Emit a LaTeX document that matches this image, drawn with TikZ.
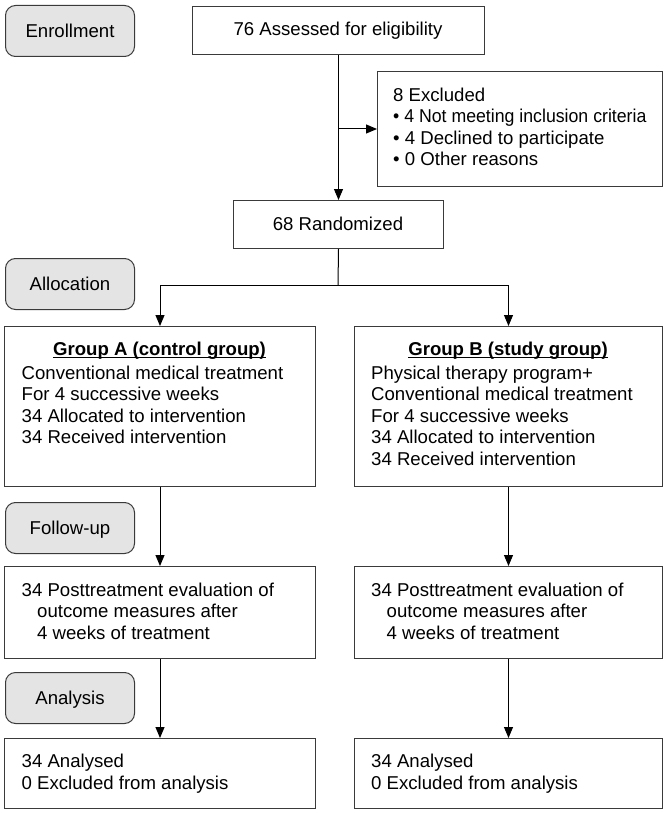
\documentclass[tikz,border=0pt]{standalone}
\usepackage{graphicx}
\usepackage{fontspec}
\setmainfont{Liberation Sans}
\usetikzlibrary{arrows.meta}
\definecolor{lblgray}{HTML}{E4E4E4}
\definecolor{edge}{HTML}{3A3A3A}
\begin{document}
\begin{tikzpicture}[x=1pt,y=-1pt,
  every node/.style={font=\fontsize{18.6}{21.6}\selectfont, text=black},
  boxst/.style={draw=edge, line width=1pt, rectangle, anchor=north west, inner sep=0pt},
  lblst/.style={draw=edge, line width=1pt, fill=lblgray, rounded corners=10pt, anchor=north west, inner sep=0pt, minimum width=129pt, minimum height=51pt},
  txt/.style={anchor=base west, align=left, inner sep=0pt},
  ctxt/.style={anchor=base, align=center, inner sep=0pt},
  ulst/.style={draw=black, line width=1.2pt},
  arr/.style={draw=black, line width=1pt, -{Triangle[length=11pt,width=9pt]}},
  ln/.style={draw=black, line width=1pt}]
\useasboundingbox (0,0) rectangle (667,813);

% stage labels
\node[lblst] (enr) at (5,5) {};
\node[ctxt] (enrt) at ([yshift=-6.5pt]enr.center) {Enrollment};
\node[lblst] (alloc) at (5,258) {};
\node[ctxt] (alloct) at ([yshift=-6.5pt]alloc.center) {Allocation};
\node[lblst] (fol) at (5,502) {};
\node[ctxt] (folt) at ([yshift=-6.5pt]fol.center) {Follow-up};
\node[lblst] (ana) at (5,672) {};
\node[ctxt] (anat) at ([yshift=-6.5pt]ana.center) {Analysis};

% boxes (multi-line text nodes are placed by the baseline of their last line)
\node[boxst, minimum width=292pt, minimum height=48pt] (assess) at (192,6) {};
\node[ctxt] (assesst) at (338,36) {76 Assessed for eligibility};

\node[boxst, minimum width=285pt, minimum height=115pt] (excl) at (377,71) {};
\node[txt] (exclt) at (393,166) {8 Excluded\\\scalebox{0.952}[1]{\textbullet\ 4 Not meeting inclusion criteria}\\\textbullet\ 4 Declined to participate\\\textbullet\ 0 Other reasons};

\node[boxst, minimum width=210pt, minimum height=48pt] (rand) at (233,200) {};
\node[ctxt] (randt) at (338,230.5) {68 Randomized};

\node[boxst, minimum width=311pt, minimum height=160pt] (ga) at (4,326) {};
\node[ctxt] (gatitle) at (159.5,355) {\textbf{Group A (control group)}};
\draw[ulst] ([yshift=-2.8pt]gatitle.base west) -- ([yshift=-2.8pt]gatitle.base east);
\node[txt] (gat) at (21.5,443.8) {Conventional medical treatment\\For 4 successive weeks\\34 Allocated to intervention\\34 Received intervention};

\node[boxst, minimum width=308pt, minimum height=160pt] (gb) at (354,326) {};
\node[ctxt] (gbtitle) at (508,355) {\textbf{Group B (study group)}};
\draw[ulst] ([yshift=-2.8pt]gbtitle.base west) -- ([yshift=-2.8pt]gbtitle.base east);
\node[txt] (gbt) at (371,465.4) {Physical therapy program+\\Conventional medical treatment\\For 4 successive weeks\\34 Allocated to intervention\\34 Received intervention};

\node[boxst, minimum width=311pt, minimum height=92pt] (pa) at (4,566) {};
\node[txt] (pat) at (21.5,639.5) {34 Posttreatment evaluation of\\\hspace*{15.5pt}outcome measures after\\\hspace*{15.5pt}4 weeks of treatment};
\node[boxst, minimum width=308pt, minimum height=92pt] (pb) at (354,566) {};
\node[txt] (pbt) at (371,639.5) {34 Posttreatment evaluation of\\\hspace*{15.5pt}outcome measures after\\\hspace*{15.5pt}4 weeks of treatment};

\node[boxst, minimum width=311pt, minimum height=70pt] (aa) at (4,738) {};
\node[txt] (aat) at (21.5,789) {34 Analysed\\0 Excluded from analysis};
\node[boxst, minimum width=308pt, minimum height=70pt] (ab) at (354,738) {};
\node[txt] (abt) at (371,789) {34 Analysed\\0 Excluded from analysis};

% connectors
\draw[arr] (assess.south) -- (rand.north);
\coordinate (brk) at (assess.south |- excl.west);
\draw[arr] (brk) -- (excl.west);
\coordinate (split) at (338,285);
\draw[ln] (rand.south) -- (split);
\draw[arr] (split) -| (ga.north);
\draw[arr] (split) -| (gb.north);
\draw[arr] (ga.south) -- (pa.north);
\draw[arr] (gb.south) -- (pb.north);
\draw[arr] (pa.south) -- (aa.north);
\draw[arr] (pb.south) -- (ab.north);
\end{tikzpicture}
\end{document}
